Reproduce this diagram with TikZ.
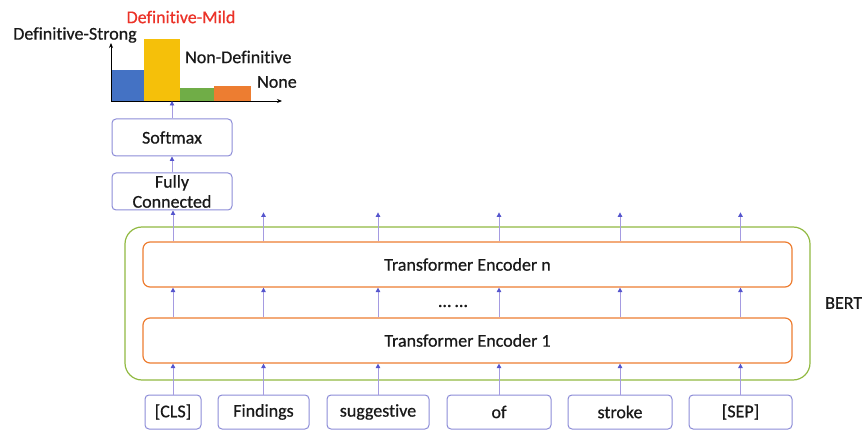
\documentclass[tikz,border=0pt]{standalone}
\usepackage{fontspec}
\setmainfont{Carlito}[Ligatures=NoCommon, FakeBold=0.6]
\usetikzlibrary{arrows.meta}
\definecolor{boxblue}{RGB}{140,140,215}
\definecolor{arrline}{RGB}{165,155,225}
\definecolor{arrhead}{RGB}{85,85,205}
\definecolor{encorange}{RGB}{237,125,49}
\definecolor{bertgreen}{RGB}{145,185,65}
\definecolor{barblue}{RGB}{68,114,196}
\definecolor{baryellow}{RGB}{245,192,10}
\definecolor{bargreen}{RGB}{112,173,71}
\definecolor{barorange}{RGB}{237,125,49}
\definecolor{txt}{RGB}{25,25,25}
\definecolor{redtxt}{RGB}{235,50,40}
\begin{document}
\begin{tikzpicture}[x=1pt,y=-1pt,
  every node/.style={font=\fontsize{18}{20}\selectfont, text=txt, inner sep=0pt},
  bluebox/.style={draw=boxblue, line width=1pt, rounded corners=4pt, align=center},
  encbox/.style={draw=encorange, line width=1.2pt, rounded corners=7pt, minimum width=649pt, minimum height=45pt},
  flow/.style={draw=arrline, line width=0.9pt, -{Triangle[length=4.5pt,width=4.5pt,color=arrhead]}},
  lbl/.style={anchor=west}]
\useasboundingbox (0,0) rectangle (862,430);
% bar chart
\fill[barblue] (111,101) rectangle (144,70.5);
\fill[baryellow] (144,101) rectangle (180,39);
\fill[bargreen] (180,101) rectangle (213.5,88.5);
\fill[barorange] (213.5,101) rectangle (250.5,86.5);
\coordinate (org) at (111,101);
\coordinate (xend) at (282,101);
\coordinate (yend) at (111,43);
\coordinate (ax) at (172,101);
\draw[line width=0.8pt, -{Stealth[length=5pt,width=4pt]}] (org) -- (xend);
\draw[line width=0.8pt, -{Stealth[length=5pt,width=4pt]}] (org) -- (yend);
\node[text=redtxt] (lmild) at (181,17) {Definitive-Mild};
\node (lstrong) at (75,35) {Definitive-Strong};
\node[lbl] (lnon) at (185,57) {Non-Definitive};
\node[lbl] (lnone) at (257,82) {None};
% softmax / fc
\node[bluebox, minimum width=120pt, minimum height=37pt] (soft) at (172,137.5) {Softmax};
\node[bluebox, minimum width=120pt, minimum height=37pt] (fc) at (172,191.5) {Fully\\Connected};
% BERT
\node[draw=bertgreen, line width=1.2pt, rounded corners=17pt, minimum width=685pt, minimum height=153pt] (bert) at (467.5,303.5) {};
\node[lbl] (bertl) at (825,303) {BERT};
\node[encbox] (encn) at (467.5,264.5) {Transformer Encoder n};
\node[encbox] (enc1) at (467.5,340.5) {Transformer Encoder 1};
\node (dots) at (453,306) {… …};
% tokens
\foreach \n/\x/\w/\t in {t1/173/56/{[CLS]}, t2/263.5/91/Findings, t3/378/102/suggestive, t4/499/104/of, t5/620/104/stroke, t6/740.5/103/{[SEP]}}{
  \node[bluebox, minimum width=\w pt, minimum height=34pt] (\n) at (\x,412) {\t};
}
\foreach \n in {t1,t2,t3,t4,t5,t6}{
  \draw[flow] (\n.north) -- (\n.north |- enc1.south);
  \draw[flow] (\n.north |- enc1.north) -- (\n.north |- encn.south);
}
\foreach \n in {t2,t3,t4,t5,t6}{
  \coordinate (top\n) at ([yshift=29pt]\n.north |- encn.north);
  \draw[flow] (\n.north |- encn.north) -- (top\n);
}
\draw[flow] (t1.north |- encn.north) -- (t1.north |- fc.south);
\draw[flow] (fc.north) -- (soft.south);
\draw[flow] (soft.north) -- (ax);
\end{tikzpicture}
\end{document}
